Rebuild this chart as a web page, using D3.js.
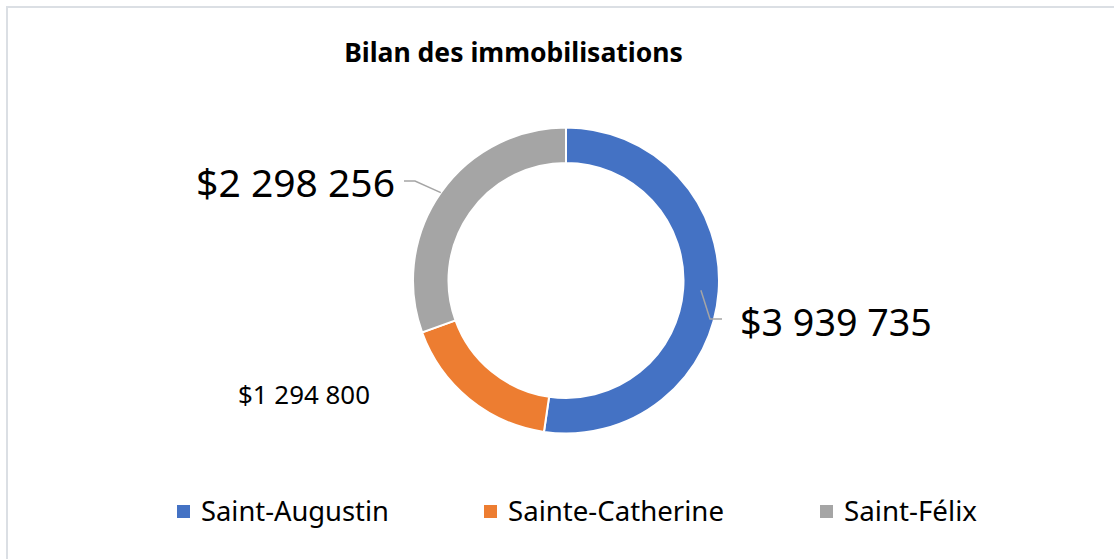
<!DOCTYPE html>
<html>
<head>
<meta charset="utf-8">
<script src="https://cdn.jsdelivr.net/npm/d3@7"></script>
<style>
  body { margin: 0; background: #fff; }
  text { font-family: "Noto Sans", "Open Sans", sans-serif; fill: #000; }
</style>
</head>
<body>
<div id="chart"></div>
<script>
// data
var categories = ['Saint-Augustin', 'Sainte-Catherine', 'Saint-Félix'];
var values = [3939735, 1294800, 2298256];
var valueLabels = ['$3 939 735', '$1 294 800', '$2 298 256'];
var colors = ['#4472C4', '#ED7D31', '#A5A5A5'];
var title = 'Bilan des immobilisations';

var W = 1114, H = 559,
	cx = 566, cy = 280.5,
	rOuter = 153, rInner = 117.5;

var svg = d3.select('#chart').append('svg')
	.attr('width', W)
	.attr('height', H);

// frame
svg.append('rect')
	.attr('x', 7).attr('y', 7)
	.attr('width', W + 20).attr('height', H + 20)
	.attr('fill', 'none')
	.attr('stroke', '#dbdfe4')
	.attr('stroke-width', 2);

// shrink / grow a text until it has the wanted width
function fitWidth(sel, w) {
	var l = sel.node().getComputedTextLength();
	var fs = parseFloat(sel.attr('font-size'));
	sel.attr('font-size', fs * w / l);
	return sel;
}

//------------- title
var t = svg.append('text')
	.attr('x', 513.5).attr('y', 62)
	.attr('text-anchor', 'middle')
	.attr('font-weight', 'bold')
	.attr('font-size', 22)
	.text(title);
fitWidth(t, 339);

//------------- donut
var pie = d3.pie().sort(null).value(d => d);
var arcs = pie(values);
var arc = d3.arc().innerRadius(rInner).outerRadius(rOuter);

var g = svg.append('g').attr('transform', 'translate(' + cx + ',' + cy + ')');

g.selectAll('path')
	.data(arcs)
	.enter()
		.append('path')
		.attr('d', arc)
		.attr('fill', (_, i) => colors[i])
		.attr('stroke', '#fff')
		.attr('stroke-width', 2);

function pointAt(a, r) {
	var m = (a.startAngle + a.endAngle) / 2;
	return [cx + r * Math.sin(m), cy - r * Math.cos(m)];
}

// label layout: [where leader starts (radius), elbow, end, text x, baseline, anchor, width]
var labelLayout = [
	{ r: (rOuter + rInner) / 2, elbow: [710, 319], end: [722, 319], x: 740, y: 336, anchor: 'start', w: 192, size: 39 },
	{ r: null, x: 238, y: 404, anchor: 'start', w: 132, size: 26 },
	{ r: rOuter, elbow: [415, 181], end: [404, 181], x: 395, y: 197, anchor: 'end', w: 199, size: 39 }
];

arcs.forEach(function (a, i) {
	var L = labelLayout[i];
	if (L.r) {
		var p0 = pointAt(a, L.r);
		svg.append('polyline')
			.attr('points', [p0, L.elbow, L.end].map(p => p.join(',')).join(' '))
			.attr('fill', 'none')
			.attr('stroke', '#A5A5A5')
			.attr('stroke-width', 1.5);
	}
	var lt = svg.append('text')
		.attr('x', L.x).attr('y', L.y)
		.attr('text-anchor', L.anchor)
		.attr('font-size', L.size)
		.text(valueLabels[i]);
	fitWidth(lt, L.w);
});

//------------- legend
var legendX = [177, 484, 820],
	legendW = [188, 216, 133];

var lg = svg.selectAll('g.legend')
	.data(categories)
	.enter()
		.append('g')
		.attr('class', 'legend');

lg.append('rect')
	.attr('x', (_, i) => legendX[i])
	.attr('y', 505)
	.attr('width', 13).attr('height', 13)
	.attr('fill', (_, i) => colors[i]);

lg.append('text')
	.attr('x', (_, i) => legendX[i] + 24)
	.attr('y', 521)
	.attr('font-size', 24)
	.text(d => d)
	.each(function (_, i) { fitWidth(d3.select(this), legendW[i]); });
</script>
</body>
</html>
